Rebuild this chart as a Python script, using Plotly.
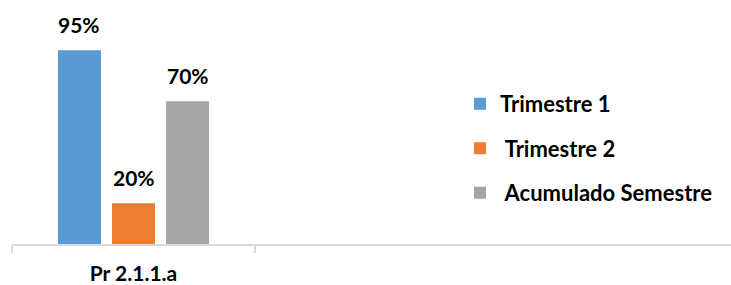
import plotly.graph_objects as go

categories = ["Pr 2.1.1.a", " ", "  "]
series_names = ["Trimestre 1", " Trimestre 2", " Acumulado Semestre"]
series_values = [[95], [20], [70]]
colors = ["#5B9BD5", "#ED7D31", "#A5A5A5"]

FONT = "Lato"
bargap = 0.333
bargroupgap = 0.204

fig = go.Figure()
for i, (name, vals) in enumerate(zip(series_names, series_values)):
    fig.add_trace(go.Bar(
        x=categories[:len(vals)], y=vals, name=name,
        marker=dict(color=colors[i], line=dict(width=0)),
        legendgroup=f"g{i}",
    ))

# value labels above each bar
n = len(series_names)
slot = (1 - bargap) / n
for i, vals in enumerate(series_values):
    for j, v in enumerate(vals):
        fig.add_annotation(
            x=j + (i - (n - 1) / 2) * slot, y=v, xref="x", yref="y",
            text=f"{v}%", showarrow=False, yanchor="bottom", yshift=11,
            font=dict(family=FONT, size=21, color="#000000", weight="bold"),
        )

fig.update_layout(
    width=731, height=285,
    margin=dict(l=12, r=0, t=40, b=41, autoexpand=False),
    paper_bgcolor="white", plot_bgcolor="white",
    barmode="group", bargap=bargap, bargroupgap=bargroupgap,
    showlegend=True,
    legend=dict(
        x=(460 - 12) / 719, y=0.79, xanchor="left", yanchor="top",
        font=dict(family=FONT, size=22, color="#000000", weight="bold"),
        tracegroupgap=13, bgcolor="rgba(0,0,0,0)",
    ),
    xaxis=dict(
        type="category", range=[-0.5, -0.5 + 719 / 243], automargin=False,
        showline=True, linecolor="#D9D9D9", linewidth=1.5,
        ticks="outside", tickson="boundaries", ticklen=7, tickcolor="#D9D9D9",
        tickwidth=1.5, showgrid=False, ticklabelstandoff=10,
        tickfont=dict(family=FONT, size=21, color="#000000", weight="bold"),
    ),
    yaxis=dict(range=[0, 100], visible=False, showgrid=False, automargin=False),
)

fig.write_html("out.html", config={"displayModeBar": False},
               post_script="document.body.style.margin='0';")
